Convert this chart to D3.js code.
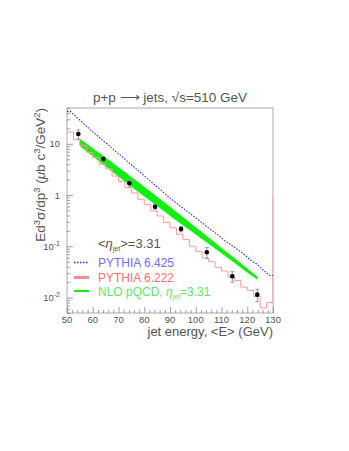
<!DOCTYPE html>
<html>
<head>
<meta charset="utf-8">
<script src="https://cdn.jsdelivr.net/npm/d3@7/dist/d3.min.js"></script>
<style>
body { margin: 0; background: #fff; }
text { font-family: "Liberation Sans", Arial, sans-serif; fill: #555; }
</style>
</head>
<body>
<script>
// bin edges (GeV) shared by the two PYTHIA histograms
var binEdges = [50, 52.5, 55, 57.5, 60, 62.5, 65, 67.5, 70, 72.5, 75, 77.5, 80, 82.5, 85, 87.5,
    90, 92.5, 95, 97.5, 100, 102.5, 105, 107.5, 110, 112.5, 115, 117.5, 120, 122.5, 125, 127.5, 130, 132.5];

// PYTHIA 6.425 (blue dotted), one value per bin
var pythia6425 = [43, 33, 25.5, 19.5, 15.2, 11.8, 9.3, 7.2, 5.7, 4.4, 3.45, 2.7, 2.1, 1.63, 1.28, 0.99,
    0.78, 0.62, 0.50, 0.40, 0.32, 0.255, 0.205, 0.165, 0.130, 0.106, 0.086, 0.070, 0.054, 0.045, 0.034, 0.027];

// PYTHIA 6.222 (red), last bin lies past the frame
var pythia6222 = [17.0, 12.0, 9.3, 6.8, 5.4, 4.0, 3.25, 2.35, 1.85, 1.38, 1.1, 0.83, 0.65, 0.49, 0.39, 0.29,
    0.23, 0.172, 0.136, 0.100, 0.080, 0.059, 0.050, 0.039, 0.033, 0.025, 0.0215, 0.016, 0.0138, 0.0105, 0.0063, 0.0080, 1.0];

// NLO pQCD band
var nloE    = [55, 60, 65, 70, 75, 80, 85, 90, 95, 100, 105, 110, 115, 120, 124];
var nloLow  = [9.1, 5.7, 3.6, 2.3, 1.46, 0.94, 0.61, 0.395, 0.259, 0.170, 0.112, 0.073, 0.048, 0.031, 0.0222];
var nloHigh = [12.6, 8.2, 5.4, 3.5, 2.25, 1.45, 0.93, 0.59, 0.375, 0.235, 0.148, 0.093, 0.059, 0.037, 0.0255];

// measured points
var jetE    = [54.4, 64.1, 74.2, 84.2, 94.3, 104.3, 114.2, 123.9];
var xsec    = [15.5, 5.06, 1.70, 0.593, 0.218, 0.0764, 0.026, 0.0114];
var xsecErr = [3.1, 0.6, 0.25, 0.06, 0.026, 0.018, 0.006, 0.0031];

var xTicks = [50, 60, 70, 80, 90, 100, 110, 120, 130];
var yTicks = [0.01, 0.1, 1, 10];
var yTickLabels = [['10', '-2'], ['10', '-1'], ['1', ''], ['10', '']];

var svgWidth = 349, svgHeight = 451;
var margin = {top: 108, left: 67};
var chartWidth = 206, chartHeight = 205;

var svg = d3.select('body').append('svg')
    .attr('width', svgWidth)
    .attr('height', svgHeight);

svg.append('defs').append('clipPath').attr('id', 'clip')
    .append('rect').attr('width', chartWidth).attr('height', chartHeight);

var chart = svg.append('g')
    .attr('transform', 'translate(' + margin.left + ',' + margin.top + ')');

var x = d3.scaleLinear().domain([50, 130]).range([0, chartWidth]);
var y = d3.scaleLog().domain([0.005, 50]).range([chartHeight, 0]);

//frame
chart.append('rect')
    .attr('width', chartWidth).attr('height', chartHeight)
    .attr('fill', 'none').attr('stroke', '#aaa').attr('stroke-width', 1);

//ticks pointing inward
var minorX = d3.range(52, 130, 2).filter(function(v){ return v % 10 !== 0; });
chart.append('g').attr('class', 'tick-x')
    .attr('transform', 'translate(0,' + chartHeight + ')')
    .call(d3.axisBottom(x).tickValues(minorX).tickSize(-3).tickFormat(''));
chart.append('g').attr('class', 'tick-x')
    .attr('transform', 'translate(0,' + chartHeight + ')')
    .call(d3.axisBottom(x).tickValues(xTicks).tickSize(-6).tickFormat(''));

var minorY = [];
[0.001, 0.01, 0.1, 1, 10].forEach(function(dec){
    for (var k = 2; k <= 9; k++) {
        var v = dec * k;
        if (v >= 0.005 && v <= 50) minorY.push(v);
    }
});
chart.append('g').attr('class', 'tick-y')
    .call(d3.axisLeft(y).tickValues(minorY).tickSize(-3).tickFormat(''));
chart.append('g').attr('class', 'tick-y')
    .call(d3.axisLeft(y).tickValues(yTicks).tickSize(-6).tickFormat(''));

chart.selectAll('.tick-x .domain, .tick-y .domain').remove();
chart.selectAll('.tick line').attr('stroke', '#888').attr('stroke-width', 0.8);

//x tick labels
chart.selectAll('.xlab')
    .data(xTicks)
    .enter()
    .append('text')
    .attr('x', function(d){ return x(d); })
    .attr('y', chartHeight + 10)
    .attr('text-anchor', 'middle')
    .style('font-size', '9.5px')
    .text(function(d){ return d; });

//y tick labels with superscripts
var ylab = chart.selectAll('.ylab')
    .data(yTicks)
    .enter()
    .append('text')
    .attr('x', -7)
    .attr('y', function(d){ return y(d) + 3.5; })
    .attr('text-anchor', 'end')
    .style('font-size', '9.5px');
ylab.append('tspan').text(function(d, i){ return yTickLabels[i][0]; });
ylab.append('tspan')
    .attr('dy', -4)
    .style('font-size', '7px')
    .text(function(d, i){ return yTickLabels[i][1]; });

var plot = chart.append('g').attr('clip-path', 'url(#clip)');

function stepPoints(values){
    var pts = [];
    values.forEach(function(v, i){
        pts.push([binEdges[i], v]);
        pts.push([binEdges[i + 1], v]);
    });
    return pts;
}
//blue curve drawn through the bin centres, ends held at the outer edges
function centrePoints(values){
    var pts = [[binEdges[0], values[0]]];
    values.forEach(function(v, i){
        pts.push([(binEdges[i] + binEdges[i + 1]) / 2, v]);
    });
    pts.push([binEdges[values.length], values[values.length - 1]]);
    return pts;
}
var histLine = d3.line()
    .x(function(d){ return x(d[0]); })
    .y(function(d){ return y(d[1]); });

//NLO band
var band = d3.area()
    .x(function(d, i){ return x(nloE[i]); })
    .y0(function(d, i){ return y(nloLow[i]); })
    .y1(function(d, i){ return y(nloHigh[i]); });
plot.append('path')
    .datum(nloE)
    .attr('d', band)
    .attr('fill', '#11ee11');

plot.append('path')
    .attr('d', histLine(stepPoints(pythia6222)))
    .attr('fill', 'none')
    .attr('stroke', '#ff9a9a')
    .attr('stroke-width', 1);

plot.append('path')
    .attr('d', histLine(centrePoints(pythia6425)))
    .attr('fill', 'none')
    .attr('stroke', '#2b2bff')
    .attr('stroke-width', 1.1)
    .attr('stroke-dasharray', '1.5,1.5');

//error bars
var errs = plot.selectAll('.err')
    .data(jetE)
    .enter()
    .append('g')
    .attr('stroke', '#999')
    .attr('stroke-width', 1);
errs.append('line')
    .attr('x1', function(d){ return x(d); })
    .attr('x2', function(d){ return x(d); })
    .attr('y1', function(d, i){ return y(xsec[i] + xsecErr[i]); })
    .attr('y2', function(d, i){ return y(xsec[i] - xsecErr[i]); });
errs.append('line')
    .attr('x1', function(d){ return x(d) - 2; })
    .attr('x2', function(d){ return x(d) + 2; })
    .attr('y1', function(d, i){ return y(xsec[i] + xsecErr[i]); })
    .attr('y2', function(d, i){ return y(xsec[i] + xsecErr[i]); });
errs.append('line')
    .attr('x1', function(d){ return x(d) - 2; })
    .attr('x2', function(d){ return x(d) + 2; })
    .attr('y1', function(d, i){ return y(xsec[i] - xsecErr[i]); })
    .attr('y2', function(d, i){ return y(xsec[i] - xsecErr[i]); });

plot.selectAll('circle')
    .data(jetE)
    .enter()
    .append('circle')
    .attr('cx', function(d){ return x(d); })
    .attr('cy', function(d, i){ return y(xsec[i]); })
    .attr('r', 2.3)
    .attr('fill', '#000');

//title
svg.append('text')
    .attr('x', margin.left + chartWidth / 2)
    .attr('y', 102)
    .attr('text-anchor', 'middle')
    .style('font-size', '13.5px')
    .text('p+p \u27F6 jets, \u221As=510 GeV');

//axis titles
svg.append('text')
    .attr('x', margin.left + chartWidth)
    .attr('y', 336)
    .attr('text-anchor', 'end')
    .style('font-size', '13px')
    .text('jet energy, <E> (GeV)');

var yTitle = svg.append('text')
    .attr('transform', 'translate(45,' + margin.top + ') rotate(-90)')
    .attr('text-anchor', 'end')
    .style('font-size', '13.5px');
yTitle.append('tspan').text('Ed');
yTitle.append('tspan').attr('dy', -5).style('font-size', '9.5px').text('3');
yTitle.append('tspan').attr('dy', 5).text('\u03C3/dp');
yTitle.append('tspan').attr('dy', -5).style('font-size', '9.5px').text('3');
yTitle.append('tspan').attr('dy', 5).text(' (');
yTitle.append('tspan').style('font-style', 'italic').text('\u03BC');
yTitle.append('tspan').text('b c');
yTitle.append('tspan').attr('dy', -5).style('font-size', '9.5px').text('3');
yTitle.append('tspan').attr('dy', 5).text('/GeV');
yTitle.append('tspan').attr('dy', -5).style('font-size', '9.5px').text('2');
yTitle.append('tspan').attr('dy', 5).text(')');

//legend
var leg = svg.append('g');
var eta = leg.append('text').attr('x', 98).attr('y', 248).style('font-size', '13px');
eta.append('tspan').text('<');
eta.append('tspan').style('font-style', 'italic').text('\u03B7');
eta.append('tspan').attr('dy', 3).style('font-size', '7px').text('jet');
eta.append('tspan').attr('dy', -3).text('>=3.31');

leg.append('line').attr('x1', 74).attr('x2', 89).attr('y1', 262.5).attr('y2', 262.5)
    .attr('stroke', '#2b2bff').attr('stroke-width', 1.3).attr('stroke-dasharray', '1.5,1.5');
leg.append('text').attr('x', 98).attr('y', 266.5).style('font-size', '12px')
    .style('fill', '#6e6eff').text('PYTHIA 6.425');

leg.append('line').attr('x1', 74).attr('x2', 89).attr('y1', 277.5).attr('y2', 277.5)
    .attr('stroke', '#ff8c8c').attr('stroke-width', 3);
leg.append('text').attr('x', 98).attr('y', 281.5).style('font-size', '12px')
    .style('fill', '#ff6f6f').text('PYTHIA 6.222');

leg.append('line').attr('x1', 74).attr('x2', 89).attr('y1', 291).attr('y2', 291)
    .attr('stroke', '#11ee11').attr('stroke-width', 2);
var nloText = leg.append('text').attr('x', 98).attr('y', 296).style('font-size', '12px')
    .style('fill', '#5fe65f');
nloText.append('tspan').style('fill', '#5fe65f').text('NLO pQCD, ');
nloText.append('tspan').style('fill', '#5fe65f').style('font-style', 'italic').text('\u03B7');
nloText.append('tspan').style('fill', '#5fe65f').attr('dy', 3).style('font-size', '7px').text('jet');
nloText.append('tspan').style('fill', '#5fe65f').attr('dy', -3).text('=3.31');
</script>
</body>
</html>
